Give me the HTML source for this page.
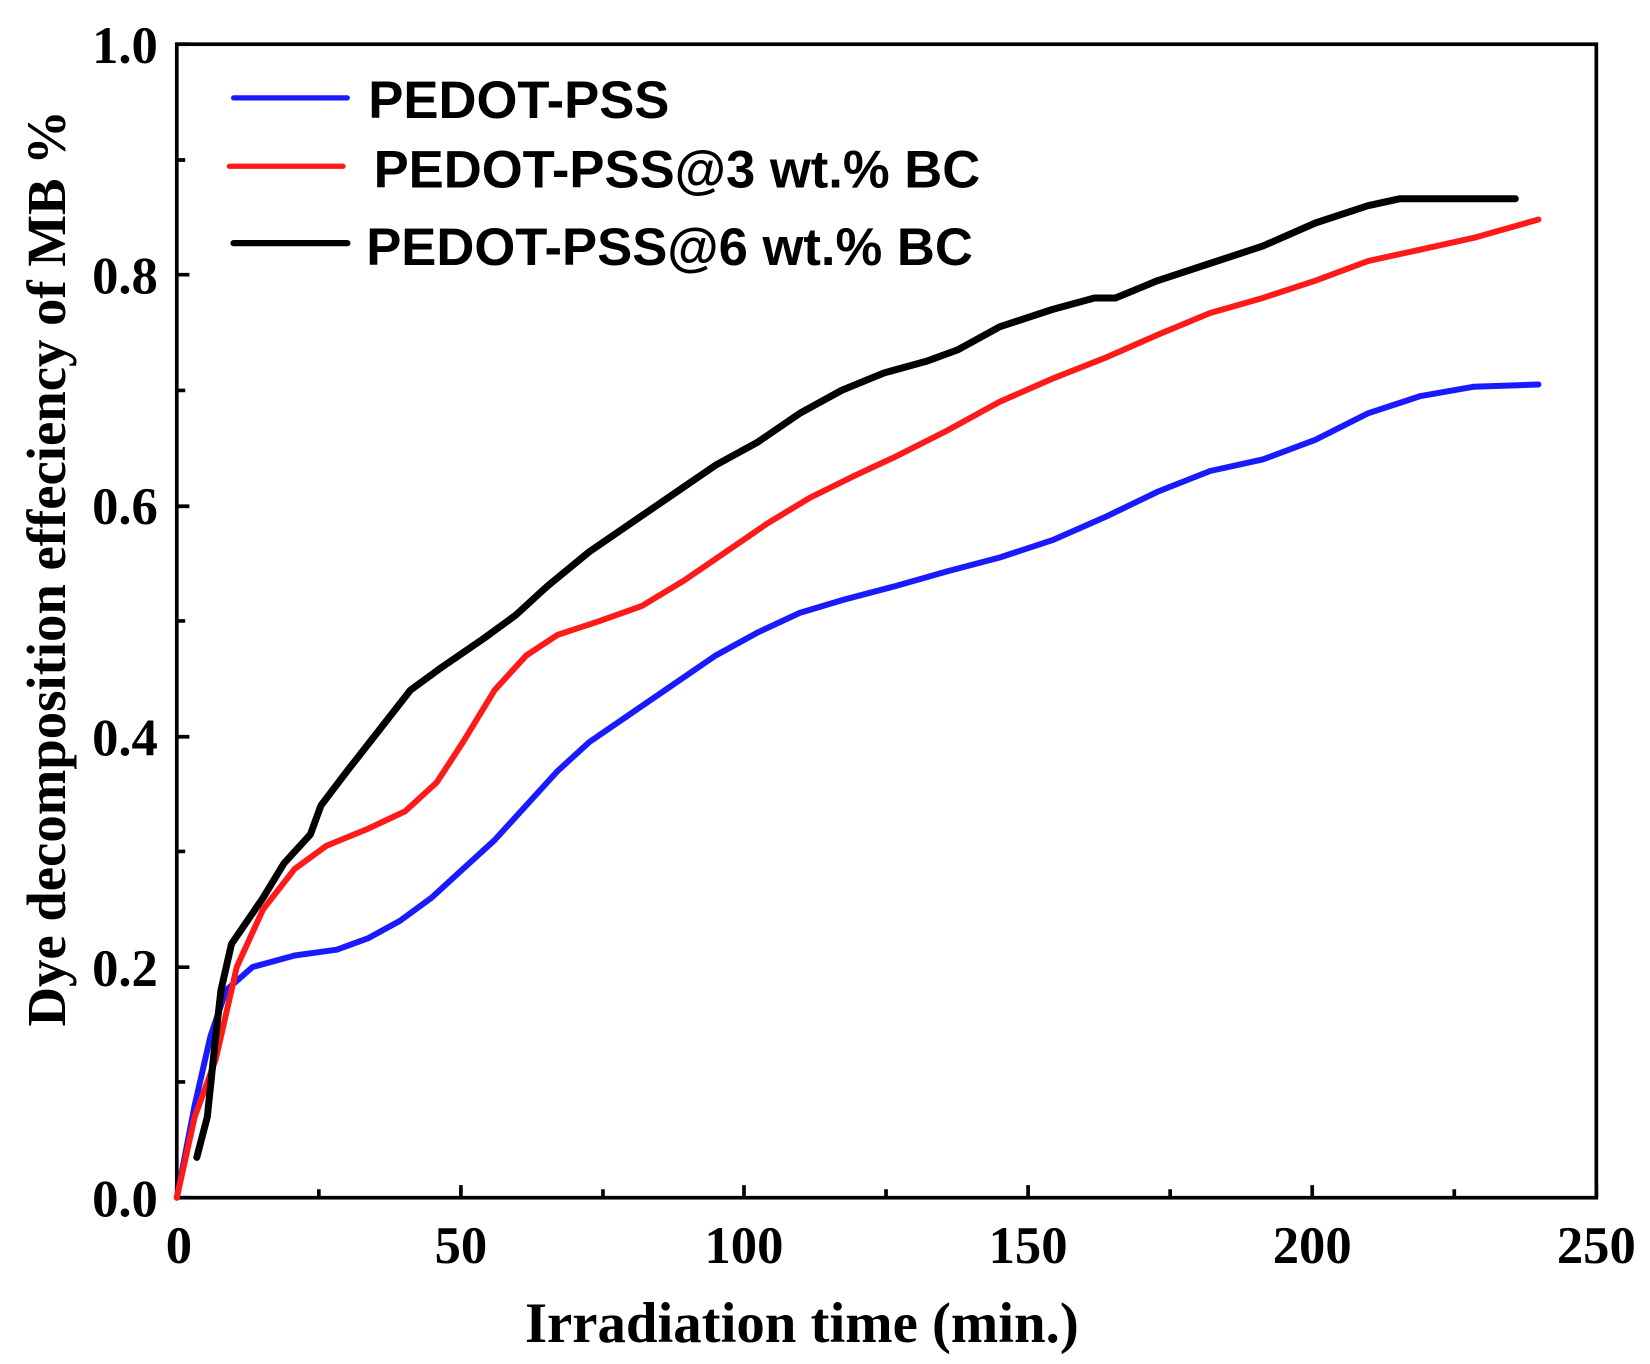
<!DOCTYPE html>
<html><head><meta charset="utf-8"><style>html,body{margin:0;padding:0;background:#fff;}svg{display:block}</style></head><body>
<svg width="1650" height="1364" viewBox="0 0 1568 1296" preserveAspectRatio="none" xmlns="http://www.w3.org/2000/svg">
<rect width="1568" height="1296" fill="#fff"/>
<g stroke="#000" stroke-width="3.5" fill="none">
<rect x="168" y="42" width="1349" height="1096"/>
<path d="M168 1138v-12M303 1138v-8M438 1138v-12M573 1138v-8M707 1138v-12M842 1138v-8M977 1138v-12M1112 1138v-8M1247 1138v-12M1382 1138v-8M1517 1138v-12
M168 1138h12M168 1028h8M168 919h12M168 809h8M168 700h12M168 590h8M168 481h12M168 371h8M168 261h12M168 152h8M168 42h12"/>
</g>
<g font-family="Liberation Serif, serif" font-weight="bold" font-size="50" fill="#000">
<g text-anchor="end">
<text x="150" y="1156">0.0</text><text x="150" y="937">0.2</text><text x="150" y="718">0.4</text><text x="150" y="498">0.6</text><text x="150" y="279">0.8</text><text x="150" y="60">1.0</text>
</g>
<g text-anchor="middle">
<text x="170" y="1200">0</text><text x="438" y="1200">50</text><text x="707" y="1200">100</text><text x="977" y="1200">150</text><text x="1247" y="1200">200</text><text x="1517" y="1200">250</text>
</g>
<text x="762" y="1275" text-anchor="middle" font-size="54">Irradiation time (min.)</text>
<text transform="translate(62,540) rotate(-90)" text-anchor="middle" font-size="52">Dye decomposition effeciency of MB %</text>
</g>
<g fill="none" stroke-linejoin="round" stroke-linecap="round" transform="translate(0,1138) scale(1,-1096)">
<polyline vector-effect="non-scaling-stroke" stroke-width="6" stroke="#1a1aff" points="168,0 185,0.08 200,0.14 215,0.18 240,0.2 280,0.21 320,0.215 350,0.225 380,0.24 410,0.26 440,0.285 470,0.31 500,0.34 530,0.37 560,0.395 600,0.42 640,0.445 680,0.47 720,0.49 760,0.507 800,0.518 850,0.53 900,0.543 950,0.555 1000,0.57 1050,0.59 1100,0.612 1150,0.63 1200,0.64 1250,0.657 1300,0.68 1350,0.695 1400,0.703 1462,0.705"/>
<polyline vector-effect="non-scaling-stroke" stroke-width="6" stroke="#ff1a1a" points="168,0 185,0.07 205,0.12 225,0.2 250,0.25 280,0.285 310,0.305 350,0.32 385,0.335 415,0.36 440,0.395 470,0.44 500,0.47 530,0.488 570,0.5 610,0.513 650,0.535 690,0.56 730,0.585 770,0.607 810,0.625 850,0.642 900,0.665 950,0.69 1000,0.71 1050,0.728 1100,0.748 1150,0.767 1200,0.78 1250,0.795 1300,0.812 1350,0.822 1400,0.832 1462,0.848"/>
<polyline vector-effect="non-scaling-stroke" stroke-width="7" stroke="#000" points="187,0.035 197,0.07 205,0.14 210,0.18 220,0.22 235,0.24 250,0.26 270,0.29 295,0.315 305,0.34 330,0.37 360,0.405 390,0.44 420,0.46 460,0.485 490,0.505 520,0.53 560,0.56 600,0.585 640,0.61 680,0.635 720,0.655 760,0.68 800,0.7 840,0.715 880,0.725 910,0.735 950,0.755 1000,0.77 1040,0.78 1060,0.78 1100,0.795 1150,0.81 1200,0.825 1250,0.845 1300,0.86 1330,0.866 1440,0.866"/>
</g>
<g fill="none" stroke-width="5" stroke-linecap="round">
<line x1="222" y1="93" x2="330" y2="93" stroke="#1a1aff"/>
<line x1="218" y1="158" x2="326" y2="158" stroke="#ff1a1a"/>
<line x1="222" y1="231" x2="330" y2="231" stroke="#000" stroke-width="6"/>
</g>
<g font-family="Liberation Sans, sans-serif" font-weight="bold" font-size="50" fill="#000">
<text x="350" y="112">PEDOT-PSS</text>
<text x="355" y="178">PEDOT-PSS@3 wt.% BC</text>
<text x="348" y="252">PEDOT-PSS@6 wt.% BC</text>
</g>
</svg>
</body></html>
